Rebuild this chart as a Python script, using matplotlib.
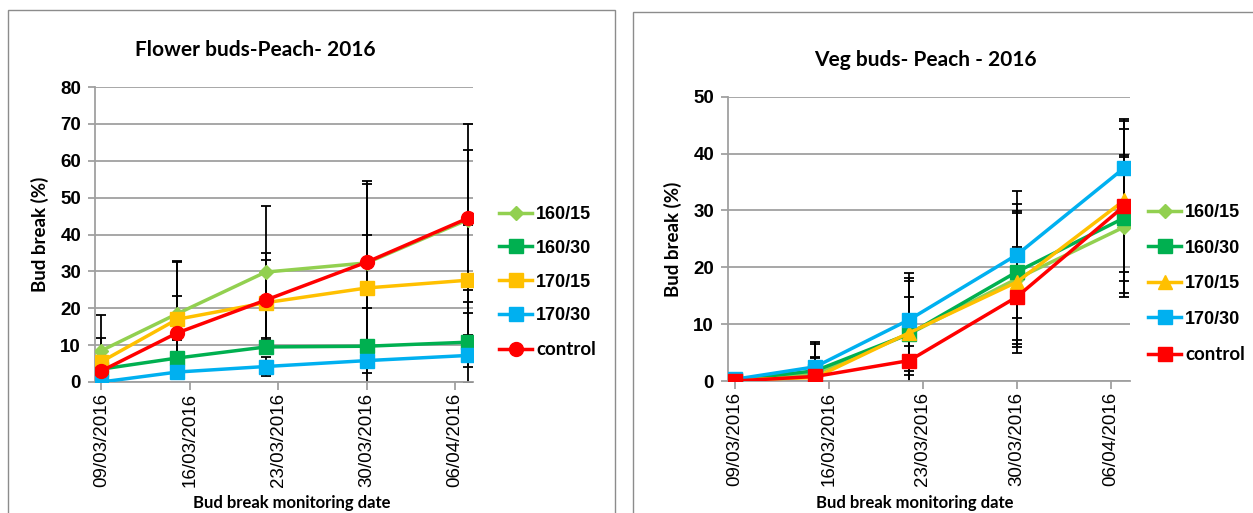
import numpy as np
import pandas as pd
import matplotlib
matplotlib.use("Agg")
import matplotlib.pyplot as plt
import matplotlib.dates as mdates
from matplotlib.patches import Rectangle

# sampling dates and axis tick dates
sample_dates = pd.to_datetime(["2016-03-09", "2016-03-15", "2016-03-22", "2016-03-30", "2016-04-07"])
tick_dates = pd.to_datetime(["2016-03-09", "2016-03-16", "2016-03-23", "2016-03-30", "2016-04-06"])

series = ["160/15", "160/30", "170/15", "170/30", "control"]
colors = ["#92D050", "#00B050", "#FFC000", "#00B0F0", "#FF0000"]

# flower buds (%)
fl_16015 = [8.5, 18.5, 29.8, 32.3, 44.0]
fl_16030 = [3.5, 6.5, 9.5, 9.7, 10.8]
fl_17015 = [5.5, 17.0, 21.5, 25.5, 27.6]
fl_17030 = [0.0, 2.7, 4.2, 5.8, 7.2]
fl_control = [3.0, 13.3, 22.2, 32.5, 44.4]
fl_err_16015 = [9.7, 14.0, 17.9, 21.3, 19.0]
fl_err_16030 = [3.0, 5.0, 2.0, 10.3, 11.0]
fl_err_17015 = [6.5, 15.8, 11.5, 14.3, 14.9]
fl_err_17030 = [0.0, 2.0, 2.7, 3.3, 3.2]
fl_err_control = [3.0, 10.0, 12.8, 22.0, 25.6]

# vegetative buds (%)
vg_16015 = [0.2, 1.3, 8.3, 18.0, 27.1]
vg_16030 = [0.2, 1.8, 8.3, 19.2, 28.7]
vg_17015 = [0.2, 0.6, 8.5, 17.4, 31.8]
vg_17030 = [0.3, 2.5, 10.8, 22.2, 37.5]
vg_control = [0.0, 0.8, 3.6, 14.8, 30.8]
vg_err_16015 = [0.3, 3.0, 6.5, 11.5, 12.3]
vg_err_16030 = [0.3, 4.7, 9.9, 12.0, 11.1]
vg_err_17015 = [0.3, 3.5, 9.0, 12.5, 12.6]
vg_err_17030 = [0.3, 4.4, 8.2, 11.2, 8.3]
vg_err_control = [0.0, 1.5, 2.6, 8.8, 15.3]

fl_vals = [fl_16015, fl_16030, fl_17015, fl_17030, fl_control]
fl_errs = [fl_err_16015, fl_err_16030, fl_err_17015, fl_err_17030, fl_err_control]
vg_vals = [vg_16015, vg_16030, vg_17015, vg_17030, vg_control]
vg_errs = [vg_err_16015, vg_err_16030, vg_err_17015, vg_err_17030, vg_err_control]

fl_markers = ["D", "s", "s", "s", "o"]
vg_markers = ["D", "s", "^", "s", "s"]

W, H = 1253, 513
fig = plt.figure(figsize=(W / 100, H / 100), dpi=100)

# chart area frames
fig.patches.append(Rectangle((8 / W, -0.01), (615 - 8) / W, 1 - 10 / H + 0.01,
                             transform=fig.transFigure, fill=False, edgecolor="#8c8c8c", lw=1))
fig.patches.append(Rectangle((633 / W, -0.01), 0.6, 1 - 12 / H + 0.01,
                             transform=fig.transFigure, fill=False, edgecolor="#8c8c8c", lw=1))

ax1 = fig.add_axes([95 / W, 1 - 382 / H, 378 / W, 295 / H])
ax2 = fig.add_axes([728 / W, 1 - 381 / H, 402 / W, 284.3 / H])

lato = ["Lato", "DejaVu Sans"]
arial = ["Liberation Sans", "DejaVu Sans"]


def draw(ax, vals, errs, markers, ymax, title, title_xy, legend_xy, spacing, xlabel_x):
    for i in range(len(series)):
        ax.errorbar(sample_dates, vals[i], yerr=errs[i], fmt="none", ecolor="black",
                    elinewidth=1.3, capsize=3.5, capthick=1.3, zorder=2)
    for i in range(len(series)):
        ms = 7 if markers[i] == "D" else 10
        ax.plot(sample_dates, vals[i], color=colors[i], lw=2.5, marker=markers[i],
                ms=ms, label=series[i], zorder=3 + i)
    ax.set_ylim(0, ymax)
    ax.set_yticks(np.arange(0, ymax + 1, 10))
    ax.set_xlim(sample_dates[0] - pd.Timedelta(hours=12), sample_dates[-1] + pd.Timedelta(hours=10))
    ax.set_xticks(tick_dates)
    ax.xaxis.set_major_formatter(mdates.DateFormatter("%d/%m/%Y"))
    ax.grid(axis="y", color="#a0a0a0", lw=1.3)
    ax.set_axisbelow(True)
    for s in ["top", "right"]:
        ax.spines[s].set_visible(False)
    for s in ["left", "bottom"]:
        ax.spines[s].set_color("#a0a0a0")
        ax.spines[s].set_linewidth(1.3)
    ax.tick_params(axis="x", colors="#a0a0a0", labelcolor="black", length=6, width=1.3,
                   labelrotation=90, labelsize=13.5, pad=2)
    ax.tick_params(axis="y", colors="#a0a0a0", labelcolor="black", length=5, width=1.3,
                   labelsize=13.5, pad=5)
    for lab in ax.get_yticklabels():
        lab.set_fontweight("bold")
        lab.set_fontfamily(arial)
    for lab in ax.get_xticklabels():
        lab.set_fontfamily(arial)
    fig.text(title_xy[0] / W, 1 - title_xy[1] / H, title, fontsize=15, fontweight="bold",
             family=lato, ha="center", va="center")
    ax.set_ylabel("Bud break (%)", fontsize=13.5, fontweight="bold", family=lato, labelpad=8)
    fig.text(xlabel_x / W, 1 - 503 / H, "Bud break monitoring date", fontsize=12,
             fontweight="bold", family=lato, ha="center", va="center")
    leg = ax.legend(loc="upper left", bbox_to_anchor=(legend_xy[0] / W, 1 - legend_xy[1] / H),
                    bbox_transform=fig.transFigure, frameon=False,
                    prop={"family": arial, "weight": "bold", "size": 13},
                    handlelength=1.85, handletextpad=0.2, labelspacing=spacing, borderaxespad=0,
                    borderpad=0)
    last = leg.get_texts()[-1]
    last.set_fontfamily(lato)
    last.set_fontsize(13.5)


draw(ax1, fl_vals, fl_errs, fl_markers, 80, "Flower buds-Peach- 2016", (255, 50), (499, 206), 0.93, 292)
draw(ax2, vg_vals, vg_errs, vg_markers, 50, "Veg buds- Peach - 2016", (925, 60), (1148, 204), 1.03, 915)

fig.savefig("out.png", dpi=100)
